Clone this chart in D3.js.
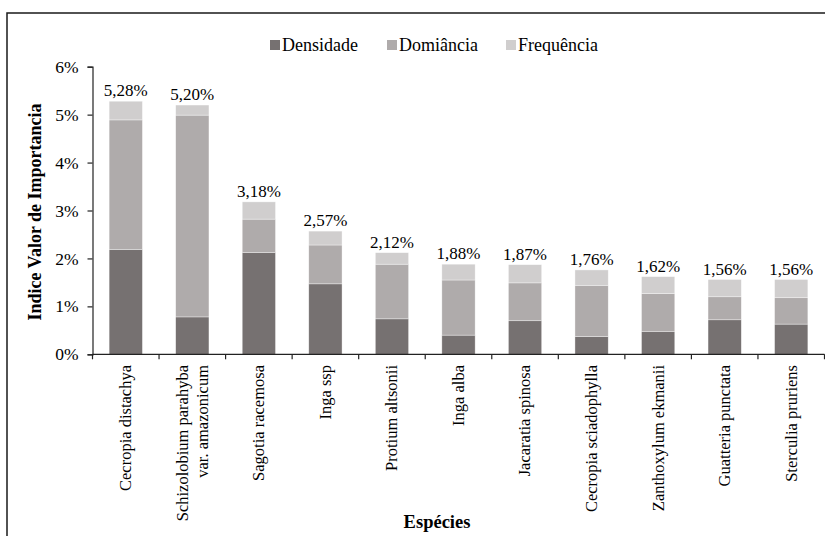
<!DOCTYPE html>
<html>
<head>
<meta charset="utf-8">
<script src="https://cdn.jsdelivr.net/npm/d3@7"></script>
<style>
  html, body { margin: 0; padding: 0; background: #fff; }
  svg { display: block; }
  text { font-family: "Liberation Serif", "Times New Roman", serif; fill: #000; }
</style>
</head>
<body>
<svg id="chart" width="825" height="536"></svg>
<script>
// Species (x categories); "\n" splits a label onto two lines
const especies = [
  "Cecropia distachya",
  "Schizolobium parahyba\nvar. amazonicum",
  "Sagotia racemosa",
  "Inga ssp",
  "Protium altsonii",
  "Inga alba",
  "Jacaratia spinosa",
  "Cecropia sciadophylla",
  "Zanthoxylum ekmanii",
  "Guatteria punctata",
  "Sterculia pruriens"
];

// Component values of the importance value index (%)
const densidade   = [2.19, 0.78, 2.12, 1.47, 0.74, 0.40, 0.70, 0.37, 0.48, 0.72, 0.63];
const dominancia  = [2.70, 4.21, 0.70, 0.81, 1.14, 1.15, 0.79, 1.07, 0.79, 0.48, 0.55];
const frequencia  = [0.39, 0.21, 0.36, 0.29, 0.24, 0.33, 0.38, 0.32, 0.35, 0.36, 0.38];

const seriesNames = ["Densidade", "Domiância", "Frequência"];
const seriesColors = ["#767171", "#AFABAB", "#D0CECE"];
const yTicks = [0, 1, 2, 3, 4, 5, 6];

const rows = especies.map((name, i) => ({
  name,
  Densidade: densidade[i],
  "Domiância": dominancia[i],
  "Frequência": frequencia[i]
}));

const svg = d3.select("#chart");

// Outer frame
svg.append("rect")
  .attr("x", 7).attr("y", 13)
  .attr("width", 830).attr("height", 540)
  .attr("fill", "none").attr("stroke", "#1a1a1a").attr("stroke-width", 1.5);

const plot = { left: 92.5, right: 824.5, top: 66.7, bottom: 354.3 };

const x = d3.scaleBand()
  .domain(especies)
  .range([plot.left, plot.right])
  .paddingInner(0.5)
  .paddingOuter(0.25);

const y = d3.scaleLinear()
  .domain([0, 6])
  .range([plot.bottom, plot.top]);

const stack = d3.stack().keys(seriesNames);
const stacked = stack(rows);

// Bars
svg.append("g")
  .selectAll("g")
  .data(stacked)
  .join("g")
  .attr("fill", (d, i) => seriesColors[i])
  .selectAll("rect")
  .data(d => d)
  .join("rect")
  .attr("x", d => x(d.data.name))
  .attr("width", x.bandwidth())
  .attr("y", d => y(d[1]))
  .attr("height", d => y(d[0]) - y(d[1]))
  .attr("stroke", "#ffffff")
  .attr("stroke-width", 0.6)
  .attr("stroke-opacity", 0.6);

// Total labels above each bar
const fmt = v => v.toFixed(2).replace(".", ",") + "%";
const total = d => d.Densidade + d["Domiância"] + d["Frequência"];
svg.append("g")
  .selectAll("text")
  .data(rows)
  .join("text")
  .attr("x", d => x(d.name) + x.bandwidth() / 2)
  .attr("y", d => y(total(d)) - 5)
  .attr("text-anchor", "middle")
  .attr("font-size", 17)
  .text(d => fmt(total(d)));

// Y axis
const yAxis = d3.axisLeft(y)
  .tickValues(yTicks)
  .tickFormat(d => d + "%")
  .tickSize(5)
  .tickPadding(9);
const yg = svg.append("g")
  .attr("transform", `translate(${plot.left},0)`)
  .call(yAxis);
yg.select(".domain").attr("stroke", "#222").attr("stroke-width", 1.2);
yg.selectAll(".tick line").attr("stroke", "#222").attr("stroke-width", 1.2);
yg.selectAll(".tick text")
  .attr("font-size", 17.5)
  .attr("font-family", "Liberation Serif, Times New Roman, serif")
  .attr("fill", "#000");

// X axis: baseline with tick marks at band boundaries
const xg = svg.append("g");
xg.append("line")
  .attr("x1", plot.left).attr("x2", plot.right)
  .attr("y1", plot.bottom).attr("y2", plot.bottom)
  .attr("stroke", "#222").attr("stroke-width", 1.2);
const boundaries = d3.range(especies.length + 1).map(i => plot.left + i * (plot.right - plot.left) / especies.length);
xg.selectAll("line.tick")
  .data(boundaries)
  .join("line")
  .attr("class", "tick")
  .attr("x1", d => d).attr("x2", d => d)
  .attr("y1", plot.bottom).attr("y2", plot.bottom + 5)
  .attr("stroke", "#222").attr("stroke-width", 1.2);

// Category labels, rotated
const catLabels = xg.selectAll("text.cat")
  .data(especies)
  .join("text")
  .attr("class", "cat")
  .attr("font-size", 16.5)
  .attr("text-anchor", "end")
  .attr("transform", d => `translate(${x(d) + x.bandwidth() / 2},365) rotate(-90)`);
catLabels.each(function(d) {
  const lines = d.split("\n");
  const t = d3.select(this);
  const lh = 20;
  lines.forEach((ln, i) => {
    t.append("tspan")
      .attr("x", 0)
      .attr("y", (i - (lines.length - 1) / 2) * lh)
      .attr("dy", "0.33em")
      .text(ln);
  });
});

// Axis titles
svg.append("text")
  .attr("transform", `translate(41,212) rotate(-90)`)
  .attr("text-anchor", "middle")
  .attr("font-size", 18)
  .attr("font-weight", "bold")
  .text("Indice Valor de Importancia");

svg.append("text")
  .attr("x", 437)
  .attr("y", 528)
  .attr("text-anchor", "middle")
  .attr("font-size", 18.5)
  .attr("font-weight", "bold")
  .text("Espécies");

// Legend
const legendX = [270, 387, 506];
const legend = svg.append("g");
seriesNames.forEach((name, i) => {
  legend.append("rect")
    .attr("x", legendX[i]).attr("y", 40)
    .attr("width", 10).attr("height", 10)
    .attr("fill", seriesColors[i]);
  legend.append("text")
    .attr("x", legendX[i] + 12).attr("y", 51)
    .attr("font-size", 18)
    .text(name);
});
</script>
</body>
</html>
